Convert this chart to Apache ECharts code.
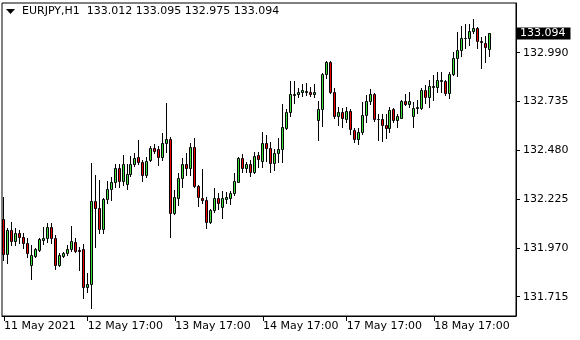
<!DOCTYPE html>
<html>
<head>
<meta charset="utf-8">
<script src="https://cdn.jsdelivr.net/npm/echarts@6/dist/echarts.min.js"></script>
<style>
html,body{margin:0;padding:0;background:#fff;}
#chart{width:580px;height:340px;}
</style>
</head>
<body>
<div id="chart"></div>
<script>
const symbol = 'EURJPY,H1';
const opens = [
132.121,131.938,132.063,132.006,132.048,132.027,131.996,131.880,131.928,131.959,
132.011,132.022,132.079,132.022,131.880,131.928,131.944,131.965,132.001,131.959,
131.965,131.766,131.781,132.215,132.178,132.069,132.225,132.277,132.314,132.388,
132.319,132.304,132.356,132.408,132.445,132.419,132.351,132.429,132.492,132.487,
132.445,132.518,132.539,132.152,132.230,132.335,132.408,132.388,132.497,132.293,
132.230,132.220,132.105,132.168,132.230,132.183,132.225,132.230,132.256,132.314,
132.440,132.388,132.408,132.367,132.455,132.424,132.518,132.492,132.414,132.466,
132.487,132.596,132.680,132.769,132.774,132.785,132.787,132.785,132.774,132.638,
132.696,132.879,132.941,132.785,132.659,132.680,132.644,132.685,132.586,132.539,
132.576,132.665,132.738,132.774,132.644,132.644,132.612,132.596,132.696,132.638,
132.649,132.738,132.722,132.659,132.701,132.701,132.795,132.759,132.811,132.811,
132.842,132.842,132.780,132.879,132.962,133.004,133.065,133.067,133.103,133.119,
133.051,133.041,133.012
];
const closes = [
131.938,132.063,132.006,132.048,132.027,131.996,131.944,131.933,131.965,132.017,
132.022,132.079,132.022,131.880,131.933,131.944,131.965,132.006,131.954,131.954,
131.766,131.781,132.215,132.178,132.069,132.225,132.277,132.314,132.388,132.319,
132.408,132.356,132.408,132.440,132.419,132.351,132.424,132.492,132.476,132.445,
132.518,132.539,132.152,132.236,132.335,132.408,132.388,132.497,132.293,132.236,
132.220,132.105,132.168,132.230,132.204,132.230,132.236,132.256,132.319,132.440,
132.388,132.408,132.367,132.450,132.434,132.518,132.492,132.414,132.466,132.487,
132.602,132.680,132.774,132.774,132.785,132.795,132.790,132.774,132.785,132.696,
132.879,132.941,132.785,132.659,132.680,132.649,132.685,132.591,132.539,132.576,
132.665,132.738,132.774,132.644,132.646,132.612,132.596,132.691,132.638,132.659,
132.738,132.722,132.738,132.701,132.706,132.795,132.759,132.816,132.816,132.847,
132.847,132.780,132.879,132.962,133.004,133.067,133.068,133.103,133.119,133.051,
133.046,133.020,133.094
];
const lows = [
131.907,131.891,131.985,131.985,131.996,131.970,131.923,131.808,131.923,131.954,
131.991,132.001,131.996,131.860,131.875,131.923,131.933,131.954,131.949,131.854,
131.708,131.739,131.656,131.975,132.048,132.048,132.204,132.220,132.288,132.288,
132.298,132.278,132.346,132.398,132.408,132.319,132.340,132.424,132.466,132.403,
132.429,132.471,132.027,132.147,132.194,132.288,132.351,132.351,132.288,132.189,
132.204,132.074,132.100,132.158,132.173,132.126,132.204,132.199,132.246,132.314,
132.367,132.367,132.346,132.361,132.393,132.393,132.424,132.367,132.377,132.419,
132.419,132.591,132.659,132.727,132.759,132.764,132.769,132.764,132.759,132.534,
132.607,132.858,132.780,132.649,132.612,132.602,132.628,132.565,132.523,132.513,
132.565,132.628,132.722,132.633,132.534,132.528,132.544,132.576,132.628,132.602,
132.649,132.717,132.706,132.602,132.675,132.696,132.727,132.706,132.743,132.785,
132.785,132.769,132.753,132.874,132.868,132.973,133.015,133.030,133.093,133.015,
132.910,132.941,132.975
];
const highs = [
132.236,132.074,132.105,132.074,132.063,132.048,132.022,131.985,131.970,132.022,
132.079,132.100,132.100,132.037,131.944,131.949,131.985,132.084,132.022,131.975,
131.991,131.839,132.414,132.351,132.325,132.230,132.319,132.340,132.408,132.408,
132.455,132.408,132.450,132.466,132.534,132.429,132.445,132.503,132.513,132.503,
132.570,132.727,132.550,132.272,132.361,132.440,132.466,132.518,132.544,132.298,
132.382,132.236,132.173,132.283,132.256,132.267,132.262,132.267,132.361,132.445,
132.461,132.419,132.429,132.471,132.471,132.576,132.560,132.523,132.487,132.544,
132.722,132.696,132.842,132.842,132.806,132.827,132.832,132.811,132.827,132.738,
132.884,132.947,132.947,132.806,132.706,132.701,132.706,132.696,132.596,132.596,
132.732,132.769,132.800,132.780,132.670,132.670,132.670,132.706,132.701,132.670,
132.743,132.774,132.785,132.732,132.743,132.806,132.821,132.847,132.874,132.889,
132.889,132.847,132.889,132.994,133.098,133.130,133.140,133.140,133.166,133.124,
133.072,133.077,133.095
];
const yTickValues = [131.715, 131.970, 132.225, 132.480, 132.735, 132.990];
const xTickIndex = [0, 21, 43, 65, 86, 108];
const xTickLabels = ['11 May 2021', '12 May 17:00', '13 May 17:00', '14 May 17:00', '17 May 17:00', '18 May 17:00'];
const slotCount = 129;

const categories = Array.from({length: slotCount}, (_, i) => 'bar ' + (i + 1));
const candleRows = opens.map((o, i) => [i, o, closes[i], lows[i], highs[i]]);
const n = opens.length - 1;
const lastClose = closes[n];
const headerText = symbol + '  ' + [opens[n], highs[n], lows[n], closes[n]].map(v => v.toFixed(3)).join(' ');

const FONT = 'DejaVu Sans';
const UP = '#3be03b', DOWN = '#f00000';
const chart = echarts.init(document.getElementById('chart'), null, {renderer: 'canvas'});
const isTick = (idx) => xTickIndex.indexOf(idx) >= 0;

function renderCandle(params, api) {
  const idx = api.value(0);
  const o = api.value(1), c = api.value(2), l = api.value(3), h = api.value(4);
  const pO = api.coord([idx, o]), pC = api.coord([idx, c]);
  const pL = api.coord([idx, l]), pH = api.coord([idx, h]);
  const col = Math.floor(pO[0] - 0.5);
  const x = col + 0.5;
  const top = Math.round(Math.min(pO[1], pC[1]));
  const bot = Math.round(Math.max(pO[1], pC[1]));
  const hy = Math.round(pH[1]);
  const ly = Math.round(pL[1]);
  return {
    type: 'group',
    children: [
      {type: 'line', shape: {x1: x, y1: hy, x2: x, y2: ly + 1}, style: {stroke: '#000', lineWidth: 1}},
      {type: 'rect', shape: {x: x - 1, y: top + 0.5, width: 2, height: bot - top},
        style: {fill: c >= o ? UP : DOWN, stroke: '#000', lineWidth: 1}}
    ]
  };
}

chart.setOption({
  animation: false,
  backgroundColor: '#fff',
  grid: {left: 2, right: 64, top: 3, bottom: 24, show: true, borderColor: '#000', borderWidth: 1, backgroundColor: 'transparent'},
  graphic: [
    {type: 'polygon', shape: {points: [[6, 9], [15, 9], [10.5, 14]]}, style: {fill: '#000'}},
    {type: 'text', left: 22, top: 6, style: {text: headerText, font: '11px "' + FONT + '"', fill: '#000'}}
  ],
  xAxis: {
    type: 'category',
    data: categories,
    boundaryGap: true,
    axisLine: {show: true, lineStyle: {color: '#000', width: 1}},
    axisTick: {show: true, interval: isTick, alignWithLabel: true, length: 5, lineStyle: {color: '#000'}},
    axisLabel: {
      show: true, interval: isTick, align: 'left', margin: 5,
      color: '#000', fontFamily: FONT, fontSize: 11,
      formatter: (v, i) => { const k = xTickIndex.indexOf(i); return k >= 0 ? xTickLabels[k] : ''; }
    },
    splitLine: {show: false}
  },
  yAxis: {
    type: 'value',
    position: 'right',
    min: 131.614,
    max: 133.250,
    scale: true,
    axisLine: {show: true, lineStyle: {color: '#000', width: 1}},
    axisTick: {show: true, customValues: yTickValues, length: 4, lineStyle: {color: '#000'}},
    axisLabel: {show: true, customValues: yTickValues, margin: 7, color: '#000', fontFamily: FONT, fontSize: 11,
      formatter: v => Number(v).toFixed(3)},
    splitLine: {show: false}
  },
  series: [{
    type: 'custom',
    renderItem: renderCandle,
    data: candleRows,
    encode: {x: 0, y: [1, 2, 3, 4]},
    clip: true,
    markLine: {
      silent: true,
      symbol: 'none',
      animation: false,
      lineStyle: {color: 'rgba(0,0,0,0)', width: 0},
      label: {
        show: true, position: 'end', distance: 1,
        formatter: () => lastClose.toFixed(3),
        color: '#fff', backgroundColor: '#000', padding: [1, 5, 0, 3],
        fontFamily: FONT, fontSize: 11
      },
      data: [{yAxis: lastClose}]
    }
  }]
});
</script>
</body>
</html>
